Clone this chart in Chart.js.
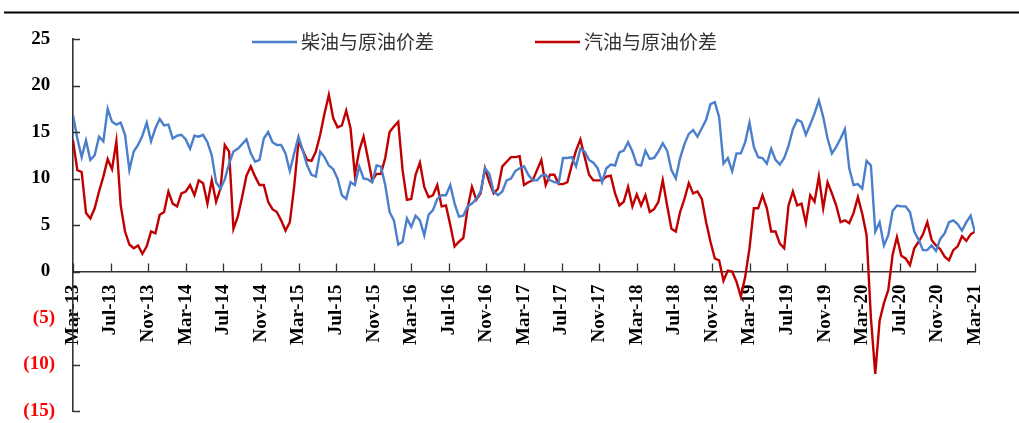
<!DOCTYPE html>
<html>
<head>
<meta charset="utf-8">
<script src="https://cdn.jsdelivr.net/npm/chart.js@4.4.1/dist/chart.umd.min.js"></script>
<style>
  html, body { margin: 0; padding: 0; background: #ffffff; }
  #wrap { width: 1019px; height: 423px; position: relative; }
</style>
</head>
<body>
<div id="wrap"><canvas id="c" width="1019" height="423"></canvas></div>
<script>
// Axis labels every four months, Mar-13 .. Mar-21
const monthLabels = ['Mar-13','Jul-13','Nov-13','Mar-14','Jul-14','Nov-14','Mar-15','Jul-15','Nov-15',
  'Mar-16','Jul-16','Nov-16','Mar-17','Jul-17','Nov-17','Mar-18','Jul-18','Nov-18',
  'Mar-19','Jul-19','Nov-19','Mar-20','Jul-20','Nov-20','Mar-21'];

// Series names and colours
const seriesNames = ['柴油与原油价差', '汽油与原油价差'];
const seriesColors = ['#4a7fcc', '#c00000'];

// Y axis range
const yMin = -15, yMax = 25, yStep = 5;

// Diesel–crude spread, sampled every two weeks from Mar-13
const dieselSpread = [
  16.8,14.3,12.3,14.1,12.0,12.5,14.5,14.0,17.5,16.1,15.8,16.0,14.7,10.9,12.9,13.6,14.6,16.0,14.0,15.4,
  16.4,15.7,15.8,14.3,14.6,14.7,14.2,13.2,14.6,14.5,14.7,13.9,12.5,9.6,8.9,9.9,11.6,12.9,13.2,13.7,
  14.2,12.7,11.8,12.0,14.3,15.0,13.9,13.6,13.6,12.7,10.8,12.7,14.5,13.0,11.4,10.4,10.2,12.9,12.3,11.4,
  11.0,10.0,8.2,7.8,9.6,9.3,11.3,10.0,9.9,9.6,11.4,11.3,9.3,6.4,5.5,2.9,3.2,5.7,4.8,6.0,
  5.5,3.9,6.1,6.6,7.8,8.2,8.2,9.3,7.3,5.9,6.0,7.0,7.3,7.8,8.6,11.1,10.5,8.6,8.2,8.6,
  9.8,10.0,10.8,11.1,11.3,10.4,9.8,9.8,10.3,10.4,9.8,9.6,9.5,12.2,12.2,12.3,11.3,13.2,12.9,12.0,
  11.7,11.1,9.6,11.1,11.5,11.4,12.8,13.0,13.9,12.9,11.5,11.4,13.0,12.1,12.2,12.9,13.8,13.0,10.9,10.0,
  12.2,13.7,14.8,15.2,14.5,15.4,16.3,18.0,18.2,16.6,11.6,12.2,10.8,12.7,12.7,13.9,16.0,13.4,12.3,12.2,
  11.6,13.2,12.0,11.5,12.2,13.5,15.3,16.3,16.1,14.7,15.8,17.0,18.4,16.6,14.3,12.7,13.4,14.3,15.3,11.1,
  9.3,9.4,8.9,11.9,11.4,4.3,5.3,2.8,3.9,6.5,7.1,7.0,7.0,6.4,4.3,3.4,2.3,2.3,2.8,2.2,
  3.5,4.1,5.3,5.5,5.1,4.4,5.3,6.0,4.2
];

// Gasoline–crude spread, same sampling
const gasolineSpread = [
  14.1,10.9,10.7,6.3,5.7,6.8,8.6,10.2,12.1,11.0,14.0,7.1,4.3,2.9,2.5,2.8,1.9,2.7,4.3,4.1,
  6.1,6.4,8.6,7.3,7.0,8.4,8.6,9.3,8.2,9.8,9.5,7.3,9.8,7.5,8.9,13.6,12.9,4.6,5.9,8.0,
  10.3,11.3,10.2,9.3,9.3,7.5,6.7,6.4,5.5,4.4,5.3,9.1,14.0,13.0,12.0,11.9,12.9,14.7,17.0,19.0,
  16.5,15.5,15.7,17.3,15.4,10.4,13.0,14.5,12.2,9.8,10.5,10.5,12.2,15.0,15.6,16.1,10.9,7.7,7.8,10.4,
  11.7,9.1,8.0,8.2,9.3,7.0,7.1,5.0,2.7,3.2,3.6,6.8,9.1,7.7,8.4,11.1,9.6,8.4,8.9,11.3,
  11.8,12.3,12.3,12.4,9.3,9.6,9.8,10.9,12.0,9.3,10.4,10.4,9.4,9.4,9.6,11.4,13.0,14.2,12.3,10.4,
  9.8,9.8,9.8,10.2,10.3,8.4,7.1,7.5,9.1,7.0,8.3,7.1,8.2,6.4,6.7,7.5,9.8,7.1,4.6,4.3,
  6.4,7.8,9.5,8.4,8.6,7.8,5.3,3.2,1.4,1.2,-1.0,0.1,0.0,-1.1,-2.7,-0.6,2.5,6.8,6.8,8.2,
  6.8,4.3,4.3,3.0,2.5,7.1,8.6,7.1,7.3,5.2,8.2,7.5,10.2,6.8,9.6,8.4,7.1,5.3,5.5,5.2,
  6.3,8.0,6.2,3.9,-5.0,-11.0,-5.3,-3.4,-2.0,1.8,3.7,1.7,1.4,0.7,2.5,3.2,4.0,5.3,3.4,2.8,
  2.4,1.6,1.2,2.3,2.7,3.8,3.3,4.0,4.3
];

const lastIndex = dieselSpread.length - 1;
const toPoints = arr => arr.map((v, i) => ({ x: i, y: v }));

// Inward tick marks on both axes
const innerTicks = {
  id: 'innerTicks',
  afterDatasetsDraw(chart) {
    const { ctx, chartArea, scales } = chart;
    const xs = scales.x, ys = scales.y;
    const y0 = ys.getPixelForValue(0);
    ctx.save();
    ctx.strokeStyle = '#333333';
    ctx.lineWidth = 1.3;
    ctx.beginPath();
    xs.ticks.forEach(t => {
      const px = Math.round(xs.getPixelForValue(t.value)) + 0.5;
      ctx.moveTo(px, y0);
      ctx.lineTo(px, y0 - 8);
    });
    ys.ticks.forEach(t => {
      const py = Math.round(ys.getPixelForValue(t.value)) + 0.5;
      ctx.moveTo(chartArea.left, py);
      ctx.lineTo(chartArea.left + 7, py);
    });
    ctx.stroke();
    ctx.restore();
  }
};

// Rule across the top of the figure
const topRule = {
  id: 'topRule',
  beforeDraw(chart) {
    const ctx = chart.ctx;
    ctx.save();
    ctx.strokeStyle = '#000000';
    ctx.lineWidth = 2.2;
    ctx.beginPath();
    ctx.moveTo(4, 12.5);
    ctx.lineTo(chart.width, 12.5);
    ctx.stroke();
    ctx.restore();
  }
};

// Legend drawn inside the plot area, near the top
const innerLegend = {
  id: 'innerLegend',
  afterDraw(chart) {
    const ctx = chart.ctx;
    const y = 42;
    let x = 252;
    ctx.save();
    ctx.font = '19px "Noto Sans CJK SC"';
    ctx.textBaseline = 'middle';
    chart.data.datasets.forEach(ds => {
      ctx.strokeStyle = ds.borderColor;
      ctx.lineWidth = 2.5;
      ctx.beginPath();
      ctx.moveTo(x, y);
      ctx.lineTo(x + 45, y);
      ctx.stroke();
      ctx.fillStyle = '#333333';
      ctx.fillText(ds.label, x + 49, y);
      x += 49 + ctx.measureText(ds.label).width + 101;
    });
    ctx.restore();
  }
};

// Scales never ask the layout for extra edge room
const noEdgePadding = scale => {
  scale.paddingTop = 0;
  scale.paddingBottom = 0;
  scale.paddingLeft = 0;
  scale.paddingRight = 0;
};

new Chart(document.getElementById('c'), {
  type: 'line',
  data: {
    datasets: [
      { label: seriesNames[0], data: toPoints(dieselSpread), borderColor: seriesColors[0], borderWidth: 2.4,
        pointRadius: 0, tension: 0, fill: false },
      { label: seriesNames[1], data: toPoints(gasolineSpread), borderColor: seriesColors[1], borderWidth: 2.4,
        pointRadius: 0, tension: 0, fill: false }
    ]
  },
  options: {
    responsive: false,
    animation: false,
    devicePixelRatio: 1,
    layout: { padding: { top: 39, right: 44, bottom: 12, left: 0 } },
    plugins: { legend: { display: false }, tooltip: { enabled: false } },
    scales: {
      x: {
        type: 'linear',
        position: { y: 0 },
        min: 0,
        max: lastIndex,
        afterBuildTicks(scale) {
          scale.ticks = monthLabels.map((_, i) => ({ value: i * lastIndex / (monthLabels.length - 1) }));
        },
        afterFit(scale) { noEdgePadding(scale); },
        ticks: {
          autoSkip: false,
          minRotation: 90,
          maxRotation: 90,
          padding: 0,
          color: '#000000',
          font: { family: '"Liberation Serif"', size: 19, weight: 'bold' },
          callback: (v, i) => monthLabels[i]
        },
        grid: { display: true, drawOnChartArea: false, drawTicks: true, tickLength: 13, tickColor: 'rgba(0,0,0,0)' },
        border: { display: true, color: '#333333', width: 1.6 }
      },
      y: {
        min: yMin,
        max: yMax,
        afterFit(scale) { scale.width = 73; noEdgePadding(scale); },
        ticks: {
          stepSize: yStep,
          padding: 18,
          color: ctx => (ctx.tick && ctx.tick.value < 0 ? '#ff0000' : '#000000'),
          font: { family: '"Liberation Serif"', size: 19, weight: 'bold' },
          callback: v => (v < 0 ? '(' + Math.abs(v) + ')' : v + ' ')
        },
        grid: { display: true, drawOnChartArea: false, drawTicks: false },
        border: { display: true, color: '#333333', width: 1.6 }
      }
    }
  },
  plugins: [topRule, innerTicks, innerLegend]
});
</script>
</body>
</html>
